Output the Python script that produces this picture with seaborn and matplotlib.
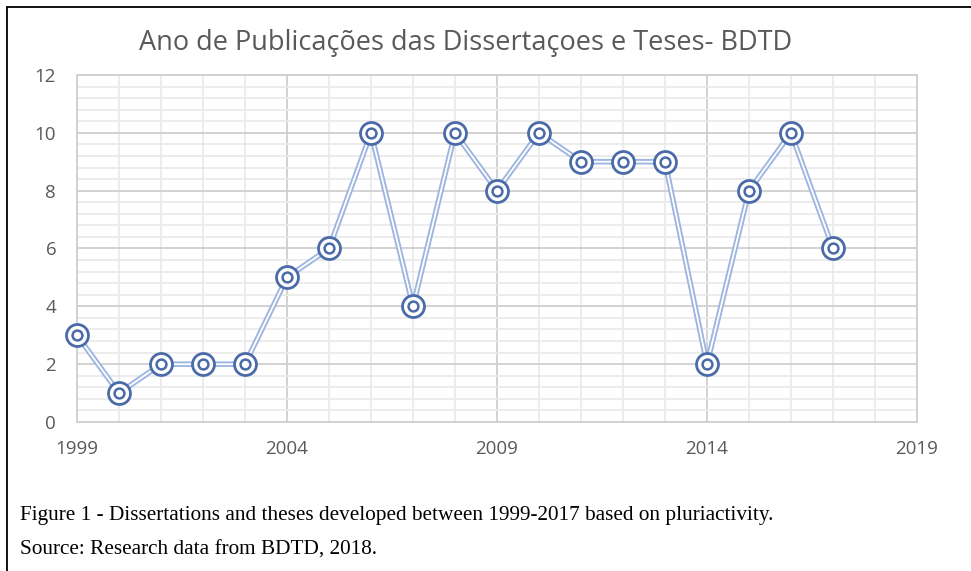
import numpy as np
import pandas as pd
import matplotlib
matplotlib.use("Agg")
import matplotlib.pyplot as plt
from matplotlib.ticker import MultipleLocator
from matplotlib.lines import Line2D
import seaborn as sns

# Data
years = [1999, 2000, 2001, 2002, 2003, 2004, 2005, 2006, 2007, 2008,
         2009, 2010, 2011, 2012, 2013, 2014, 2015, 2016, 2017]
counts = [3, 1, 2, 2, 2, 5, 6, 10, 4, 10, 8, 10, 9, 9, 9, 2, 8, 10, 6]
x_ticks = [1999, 2004, 2009, 2014, 2019]
y_ticks = [0, 2, 4, 6, 8, 10, 12]

title = "Ano de Publicações das Dissertaçoes e Teses- BDTD"
caption1 = "Figure 1 - Dissertations and theses developed between 1999-2017 based on pluriactivity."
caption2 = "Source: Research data from BDTD, 2018."

df = pd.DataFrame({"ano": years, "n": counts})

sns.set_style("white")
plt.rcParams["font.family"] = ["Open Sans", "DejaVu Sans"]

fig = plt.figure(figsize=(9.71, 5.71), dpi=100)
ax = fig.add_axes([0.0793, 0.2609, 0.8651, 0.6078])

# double line effect: wide light blue then thin white in the middle
sns.lineplot(data=df, x="ano", y="n", ax=ax, color="#9DB5E0", linewidth=4.0, zorder=3)
sns.lineplot(data=df, x="ano", y="n", ax=ax, color="white", linewidth=1.3, zorder=4)
# double circle markers
outer = sns.scatterplot(data=df, x="ano", y="n", ax=ax, s=250, marker="o",
                        facecolor="white", edgecolor="#4A6AA8", linewidth=2.0, zorder=5)
sns.scatterplot(data=df, x="ano", y="n", ax=ax, s=50, marker="o",
                facecolor="white", edgecolor="#4A6AA8", linewidth=1.8, zorder=6)
for c in ax.collections:
    c.set_clip_on(False)
for ln in ax.lines:
    ln.set_clip_on(False)

ax.set_xlim(1999, 2019)
ax.set_ylim(0, 12)
ax.set_xticks(x_ticks)
ax.set_yticks(y_ticks)
ax.xaxis.set_minor_locator(MultipleLocator(1))
ax.yaxis.set_minor_locator(MultipleLocator(0.4))
ax.grid(which="major", color="#CFCFCF", linewidth=1.3, zorder=0)
ax.grid(which="minor", color="#EAEAEA", linewidth=1.3, zorder=0)
ax.set_axisbelow(True)
for s in ax.spines.values():
    s.set_color("#D0D0D0")
    s.set_linewidth(1.3)
ax.tick_params(axis="both", which="both", length=0, labelsize=13.5, labelcolor="#595959")
ax.tick_params(axis="x", pad=13)
ax.tick_params(axis="y", pad=15)
ax.set_xlabel("")
ax.set_ylabel("")

fig.text(0.479, 0.925, title, ha="center", va="center", fontsize=19.5, color="#595959")

serif = ["Liberation Serif", "DejaVu Serif"]
fig.text(0.021, 0.098, caption1, ha="left", va="center", fontsize=15.3, family=serif, color="black")
fig.text(0.021, 0.037, caption2, ha="left", va="center", fontsize=15.3, family=serif, color="black")

# frame lines at the left and top edge
fig.add_artist(Line2D([0.0075, 0.0075], [0, 0.988], transform=fig.transFigure, color="black", linewidth=1.3))
fig.add_artist(Line2D([0.0075, 1.0], [0.988, 0.988], transform=fig.transFigure, color="black", linewidth=1.3))

fig.savefig("out.png", dpi=100)
